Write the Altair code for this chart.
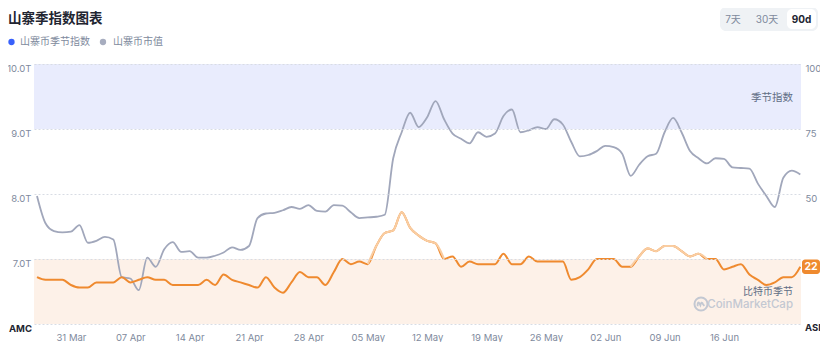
import altair as alt
import pandas as pd

# ---------------- data ----------------
START = "2025-03-27"
market_cap_t = [
    7.97, 7.55, 7.43, 7.41, 7.42, 7.52, 7.25, 7.28, 7.34, 7.30,
    6.72, 6.70, 6.52, 7.02, 6.88, 7.15, 7.26, 7.11, 7.12, 7.02,
    7.02, 7.05, 7.10, 7.18, 7.14, 7.20, 7.63, 7.70, 7.71, 7.75,
    7.80, 7.77, 7.83, 7.74, 7.73, 7.83, 7.82, 7.72, 7.63, 7.64,
    7.65, 7.68, 8.55, 8.95, 9.25, 9.03, 9.18, 9.43, 9.15, 8.93,
    8.85, 8.78, 8.95, 8.88, 8.93, 9.20, 9.30, 8.95, 8.98, 9.03,
    9.00, 9.15, 9.07, 8.80, 8.58, 8.60, 8.66, 8.74, 8.72, 8.62,
    8.28, 8.45, 8.58, 8.62, 8.95, 9.17, 8.95, 8.66, 8.55, 8.47,
    8.55, 8.54, 8.41, 8.40, 8.39, 8.16, 7.97, 7.80, 8.25, 8.36,
    8.30,
]
altseason_index = [
    18, 17, 17, 17, 15, 14, 14, 16, 16, 16,
    18, 16, 17, 18, 17, 17, 15, 15, 15, 15,
    17, 15, 19, 17, 16, 15, 14, 18, 14, 12,
    16, 20, 18, 18, 15, 20, 25, 23, 24, 23,
    30, 35, 36, 43, 37, 34, 32, 31, 25, 26,
    22, 24, 23, 23, 23, 27, 23, 23, 26, 24,
    24, 24, 24, 17, 18, 21, 25, 25, 25, 22,
    22, 26, 29, 28, 30, 30, 28, 26, 27, 25,
    25, 21, 22, 23, 19, 17, 15, 16, 18, 18,
    22,
]
light_ranges = [("2025-05-05", "2025-05-14"), ("2025-06-05", "2025-06-14")]
tick_dates = [(3, 31), (4, 7), (4, 14), (4, 21), (4, 28), (5, 5), (5, 12),
              (5, 19), (5, 26), (6, 2), (6, 9), (6, 16)]
left_ticks = [6, 7, 8, 9, 10]
right_ticks = [0, 25, 50, 75, 100]
band_lo = [75, 0]
band_hi = [100, 25]
band_fill = ["#E9ECFD", "#FDF1E8"]

# ---------------- styling ----------------
FONT = "Inter, 'Noto Sans CJK SC', sans-serif"
GRAY_TXT = "#808A9D"
DARK_TXT = "#222531"
ORANGE = "#EF8A2F"
ORANGE_LIGHT = "#F9CDA2"
LINE_GRAY = "#A1A7BB"
W, H = 767, 260

dates = pd.date_range(START, periods=len(market_cap_t), freq="D")
df = pd.DataFrame({"date": dates.strftime("%Y-%m-%d"),
                   "mcap": market_cap_t, "idx": altseason_index})
light_parts = []
for k, (a, b) in enumerate(light_ranges):
    part = df[(df["date"] >= a) & (df["date"] <= b)].copy()
    part["seg"] = k
    light_parts.append(part)
df_light = pd.concat(light_parts)
df_bands = pd.DataFrame({"lo": band_lo, "hi": band_hi, "c": band_fill})

x_enc = alt.X(
    "date:T",
    title=None,
    scale=alt.Scale(type="utc", domain=[
        alt.DateTime(year=2025, month=3, date=26, hours=15, minutes=30, utc=True),
        alt.DateTime(year=2025, month=6, date=25, hours=2, utc=True)]),
    axis=alt.Axis(
        values=[alt.DateTime(year=2025, month=m, date=d, utc=True) for m, d in tick_dates],
        labelExpr="utcFormat(datum.value, '%d %b')",
        grid=False, domain=False, ticks=False,
        labelPadding=8, labelFontSize=9.5, labelColor=GRAY_TXT, labelFont=FONT,
        labelFlush=False, labelOverlap=False),
)

idx_scale = alt.Scale(domain=[0, 100], nice=False, zero=False)
cap_scale = alt.Scale(domain=[6, 10], nice=False, zero=False)

bands = alt.Chart(df_bands).mark_rect().encode(
    y=alt.Y("lo:Q", scale=idx_scale, axis=None),
    y2="hi:Q",
    x=alt.value(0), x2=alt.value(W),
    color=alt.Color("c:N", scale=None),
)

cap_line = alt.Chart(df).mark_line(
    color=LINE_GRAY, strokeWidth=1.8, interpolate="monotone").encode(
    x=x_enc,
    y=alt.Y("mcap:Q", scale=cap_scale, title=None, axis=alt.Axis(
        orient="left", values=left_ticks,
        labelExpr="datum.value == 6 ? '' : format(datum.value, '.1f') + 'T'",
        grid=True, gridColor="#D8DCE4", gridDash=[2, 2], gridWidth=1,
        domain=False, ticks=False, labelPadding=3, labelFontSize=9.5,
        labelColor=GRAY_TXT, labelFont=FONT, labelBaseline="middle",
        labelOffset=4, zindex=1)),
)

idx_line = alt.Chart(df).mark_line(
    color=ORANGE, strokeWidth=2, interpolate="monotone").encode(
    x=x_enc,
    y=alt.Y("idx:Q", scale=idx_scale, title=None, axis=alt.Axis(
        orient="right", values=right_ticks,
        labelExpr="datum.value == 0 || datum.value == 25 ? '' : datum.label",
        grid=False, domain=False, ticks=False, labelPadding=4,
        labelFontSize=9.5, labelColor=GRAY_TXT, labelFont=FONT,
        labelBaseline="middle", labelOffset=4)),
)

idx_light = alt.Chart(df_light).mark_line(
    color=ORANGE_LIGHT, strokeWidth=2, interpolate="monotone").encode(
    x=x_enc,
    y=alt.Y("idx:Q", scale=idx_scale, axis=None),
    detail="seg:N",
)

last = df.tail(1)
badge = alt.Chart(last).transform_calculate(
    lo="datum.idx - 2.8", hi="datum.idx + 2.8").mark_rect(
    cornerRadius=3, color=ORANGE).encode(
    y=alt.Y("lo:Q", scale=idx_scale, axis=None), y2="hi:Q",
    x=alt.value(768), x2=alt.value(786),
)
badge_txt = alt.Chart(last).mark_text(
    color="white", fontWeight="bold", fontSize=10.5, font=FONT).encode(
    y=alt.Y("idx:Q", scale=idx_scale, axis=None),
    x=alt.value(777), text="idx:Q",
)


def label(text, x, y, **kw):
    return alt.Chart(pd.DataFrame({"t": [text]})).mark_text(font=FONT, **kw).encode(
        x=alt.value(x), y=alt.value(y), text="t:N")


def box(x, x2, y, y2, **kw):
    return alt.Chart(pd.DataFrame({"t": [0]})).mark_rect(**kw).encode(
        x=alt.value(x), x2=alt.value(x2), y=alt.value(y), y2=alt.value(y2))


def dot(x, y, color, size=40):
    return alt.Chart(pd.DataFrame({"t": [0]})).mark_circle(
        size=size, color=color, opacity=1).encode(x=alt.value(x), y=alt.value(y))


decor = [
    label("山寨季指数图表", -26, -45, align="left", baseline="middle",
          fontSize=13.5, fontWeight="bold", color=DARK_TXT),
    dot(-22.5, -22, "#3861FB"),
    label("山寨币季节指数", -14, -22, align="left", baseline="middle",
          fontSize=10, color=GRAY_TXT),
    dot(69, -22, "#A7ADBF"),
    label("山寨币市值", 79, -22, align="left", baseline="middle",
          fontSize=10, color=GRAY_TXT),
    box(686, 784, -57, -33, cornerRadius=6, color="#EFF2F5"),
    box(753, 782, -55, -35, cornerRadius=5, color="#FFFFFF"),
    label("7天", 699, -44, align="center", baseline="middle", fontSize=10, color=GRAY_TXT),
    label("30天", 733, -44, align="center", baseline="middle", fontSize=10, color=GRAY_TXT),
    label("90d", 767.5, -44, align="center", baseline="middle", fontSize=10,
          fontWeight="bold", color=DARK_TXT),
    label("季节指数", 759, 34, align="right", baseline="middle", fontSize=10.5,
          color="#616E85"),
    label("比特币季节", 759, 228, align="right", baseline="middle", fontSize=10,
          color="#616E85"),
    label("CoinMarketCap", 759, 240.5, align="right", baseline="middle", fontSize=11.5,
          fontWeight=500, color="#C3C8D2"),
    alt.Chart(pd.DataFrame({"t": [0]})).mark_point(
        shape="circle", size=170, filled=False, stroke="#C3C8D2", strokeWidth=2,
        opacity=1).encode(x=alt.value(667), y=alt.value(240)),
    alt.Chart(pd.DataFrame({"t": [0]})).mark_point(
        shape="M-0.55,0.35 L-0.55,0 Q-0.45,-0.5 -0.2,0 L-0.1,0.2 Q0.1,-0.55 0.3,0 L0.55,0.3",
        size=150, filled=False, stroke="#C3C8D2", strokeWidth=1.8,
        opacity=1).encode(x=alt.value(667), y=alt.value(240)),
    label("AMC", -2, 265, align="right", baseline="middle", fontSize=9.5,
          fontWeight="bold", color=DARK_TXT),
    label("ASI", 771, 264, align="left", baseline="middle", fontSize=9.5,
          fontWeight="bold", color=DARK_TXT),
]

chart = alt.layer(
    bands, cap_line, idx_line, idx_light, badge, badge_txt, *decor
).resolve_scale(y="independent").properties(
    width=W, height=H,
    autosize=alt.AutoSizeParams(type="none"),
    padding={"left": 26, "top": 56, "right": 19, "bottom": 18},
).configure_view(stroke=None)

chart.save("out.html", embed_options={"renderer": "svg", "actions": False})
